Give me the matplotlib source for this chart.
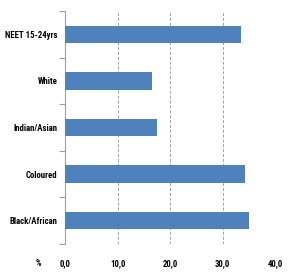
import matplotlib
matplotlib.use("Agg")
import matplotlib.pyplot as plt
from matplotlib import font_manager
import numpy as np

categories = ["Black/African", "Coloured", "Indian/Asian", "White", "NEET 15-24yrs"]
values = [35.1, 34.3, 17.6, 16.6, 33.6]
xticks = [0, 10, 20, 30, 40]
xticklabels = ["0,0", "10,0", "20,0", "30,0", "40,0"]

available = {f.name for f in font_manager.fontManager.ttflist}
candidates = ["Roboto Condensed", "Archivo Narrow", "PT Sans Narrow", "Pragati Narrow",
              "Open Sans Condensed", "Asap Condensed", "Carlito", "Liberation Sans"]
family = next(c for c in candidates if c in available)

fig = plt.figure(figsize=(3.0, 2.8), dpi=100)
renderer = fig.canvas.get_renderer()
probe = fig.text(0, 0, "NEET 15-24yrs", family=family, weight="bold", size=10)
w = probe.get_window_extent(renderer).width
probe.remove()
size = min(8.0, 10.0 * 53.0 / w)
font = dict(family=family, weight="bold", size=size)

ax = fig.add_axes([0.2167, 0.1286, 0.70, 0.832])
y = np.arange(len(categories))
ax.barh(y, values, height=0.37, color="#4F81BD", zorder=3)
ax.set_xlim(0, 40)
ax.set_ylim(-0.5, len(categories) - 0.5)
ax.set_xticks(xticks)
ax.set_xticklabels(xticklabels, fontdict=font)
ax.set_yticks(y)
ax.set_yticklabels(categories, fontdict=font)
ax.set_yticks(np.arange(-0.5, len(categories), 1.0), minor=True)
ax.tick_params(axis="y", which="major", length=0, pad=5.5)
ax.tick_params(axis="y", which="minor", length=4, color="#A0A0A0", width=0.8)
ax.tick_params(axis="x", length=0, pad=11)
for s in ["top", "right", "bottom"]:
    ax.spines[s].set_visible(False)
ax.spines["left"].set_color("#A0A0A0")
ax.spines["left"].set_linewidth(0.8)
ax.grid(axis="x", linestyle=(0, (3, 2)), color="#A0A0A0", linewidth=0.7, zorder=0)
ax.text(-0.129, -0.082, "%", transform=ax.transAxes, ha="center", va="center", fontdict=font)
fig.savefig("out.png", dpi=100)
